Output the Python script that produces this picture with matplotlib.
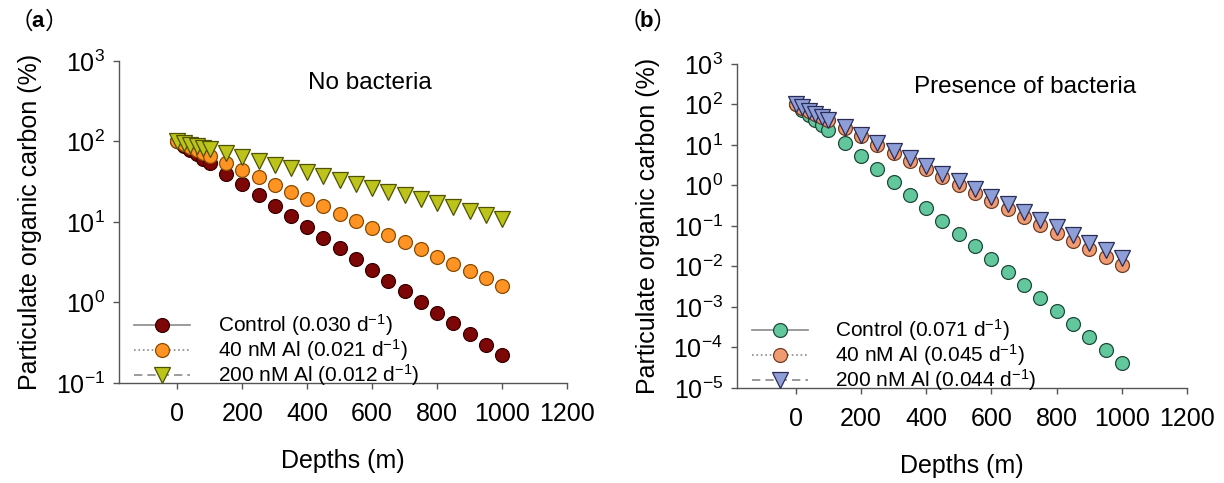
import matplotlib
matplotlib.use("Agg")
import matplotlib.pyplot as plt
from matplotlib.lines import Line2D
from matplotlib.ticker import LogLocator, NullLocator

plt.rcParams['font.family'] = ['Liberation Sans', 'DejaVu Sans']
plt.rcParams['mathtext.fontset'] = 'custom'
plt.rcParams['mathtext.rm'] = 'Liberation Sans'
plt.rcParams['mathtext.it'] = 'Liberation Sans:italic'
plt.rcParams['mathtext.bf'] = 'Liberation Sans:bold'

# depths (m)
depths = [0, 20, 40, 60, 80, 100, 150, 200, 250, 300, 350, 400, 450, 500,
          550, 600, 650, 700, 750, 800, 850, 900, 950, 1000]

# (a) no bacteria, POC remaining (%)
a_control = [100, 88.5, 78.3, 69.3, 61.3, 54.2, 39.9, 29.4, 21.7, 15.9, 11.7, 8.65,
             6.37, 4.69, 3.45, 2.54, 1.87, 1.38, 1.02, 0.75, 0.55, 0.41, 0.30, 0.22]
a_40nm = [100, 92.1, 84.8, 78.1, 71.9, 66.2, 53.9, 43.9, 35.7, 29.1, 23.6, 19.2,
          15.7, 12.7, 10.4, 8.44, 6.87, 5.59, 4.55, 3.70, 3.01, 2.45, 2.00, 1.62]
a_200nm = [100, 95.7, 91.5, 87.6, 83.8, 80.2, 71.8, 64.3, 57.6, 51.5, 46.1, 41.3,
           37.0, 33.1, 29.7, 26.6, 23.8, 21.3, 19.1, 17.1, 15.3, 13.7, 12.3, 11.0]

# (b) presence of bacteria
b_control = [100, 74.6, 55.6, 41.5, 30.9, 23.0, 11.1, 5.31, 2.55, 1.22, 0.587, 0.282,
             0.135, 0.0649, 0.0312, 0.0150, 0.00718, 0.00345, 0.00166, 7.94e-4,
             3.81e-4, 1.83e-4, 8.78e-5, 4.2e-5]
b_40nm = [100, 83.3, 69.5, 57.9, 48.2, 40.2, 25.5, 16.2, 10.2, 6.49, 4.12, 2.61,
          1.66, 1.05, 0.665, 0.422, 0.267, 0.170, 0.1075, 0.0681, 0.0432, 0.0274,
          0.0174, 0.011]
b_200nm = [100, 84.0, 70.5, 59.2, 49.7, 41.7, 27.0, 17.4, 11.2, 7.27, 4.69, 3.03,
           1.96, 1.26, 0.817, 0.528, 0.341, 0.220, 0.142, 0.0919, 0.0594, 0.0384,
           0.0248, 0.016]

a_labels = [r'Control (0.030 d$^{-1}$)', r'40 nM Al (0.021 d$^{-1}$)', r'200 nM Al (0.012 d$^{-1}$)']
b_labels = [r'Control (0.071 d$^{-1}$)', r'40 nM Al (0.045 d$^{-1}$)', r'200 nM Al (0.044 d$^{-1}$)']

fig = plt.figure(figsize=(12.24, 4.83), dpi=100)
ax_a = fig.add_axes([0.0972, 0.207, 0.366, 0.667])
ax_b = fig.add_axes([0.602, 0.1967, 0.368, 0.671])

ms = 10
styles_a = [
    dict(marker='o', mfc='#7d0606', mec='#3a0000'),
    dict(marker='o', mfc='#ff9324', mec='#8a4c00'),
    dict(marker='v', mfc='#bcc41c', mec='#4f5200'),
]
styles_b = [
    dict(marker='o', mfc='#63c79d', mec='#1e4a3a'),
    dict(marker='o', mfc='#f09a72', mec='#6e3f25'),
    dict(marker='v', mfc='#8e9fd8', mec='#2a2c55'),
]
lstyles = ['-', ':', (0, (5, 3))]


def draw_panel(ax, series, styles, labels, ylim, title, title_x):
    for y, st in zip(series, styles):
        ms_i = ms + 1.5 if st['marker'] == 'v' else ms
        ax.plot(depths, y, linestyle='none', markersize=ms_i, mew=0.9, **st)
    ax.set_yscale('log')
    ax.set_xlim(-180, 1200)
    ax.set_ylim(*ylim)
    ax.set_xticks([0, 200, 400, 600, 800, 1000, 1200])
    ax.yaxis.set_major_locator(LogLocator(base=10, numticks=20))
    ax.yaxis.set_minor_locator(NullLocator())
    for s in ['top', 'right']:
        ax.spines[s].set_visible(False)
    for s in ['left', 'bottom']:
        ax.spines[s].set_color('#555555')
        ax.spines[s].set_linewidth(1.0)
    ax.tick_params(axis='both', direction='out', length=4, width=1,
                   color='#555555', labelsize=18, pad=6)
    ax.tick_params(axis='x', pad=10)
    ax.set_xlabel('Depths (m)', fontsize=18, labelpad=16)
    ax.set_ylabel('Particulate organic carbon (%)', fontsize=18, labelpad=10)
    ax.text(title_x, 0.93, title, transform=ax.transAxes, fontsize=17.5,
            ha='center', va='center')
    handles = []
    for st, ls in zip(styles, lstyles):
        ms_i = ms + 1.5 if st['marker'] == 'v' else ms
        handles.append(Line2D([], [], color='#8a8a8a', linestyle=ls, lw=1.2,
                              markersize=ms_i, mew=0.9, **st))
    ax.legend(handles, labels, loc='lower left', bbox_to_anchor=(0.02, -0.035),
              frameon=False, fontsize=15, handlelength=2.7, handletextpad=1.3,
              labelspacing=-0.05, borderaxespad=0.1, borderpad=0.2)


draw_panel(ax_a, [a_control, a_40nm, a_200nm], styles_a, a_labels,
           (0.1, 1000), 'No bacteria', 0.56)
draw_panel(ax_b, [b_control, b_40nm, b_200nm], styles_b, b_labels,
           (1e-5, 1000), 'Presence of bacteria', 0.64)

# panel letters
for x0, letter in [(0.008, 'a'), (0.505, 'b')]:
    fig.text(x0, 0.955, '\uff08', fontsize=17, family=['Noto Sans CJK SC', 'DejaVu Sans'],
             ha='left', va='center')
    fig.text(x0 + 0.0175, 0.955, letter, fontsize=16, fontweight='bold',
             ha='left', va='center')
    fig.text(x0 + 0.0285, 0.955, '\uff09', fontsize=17, family=['Noto Sans CJK SC', 'DejaVu Sans'],
             ha='left', va='center')

fig.savefig('out.png', dpi=100)
